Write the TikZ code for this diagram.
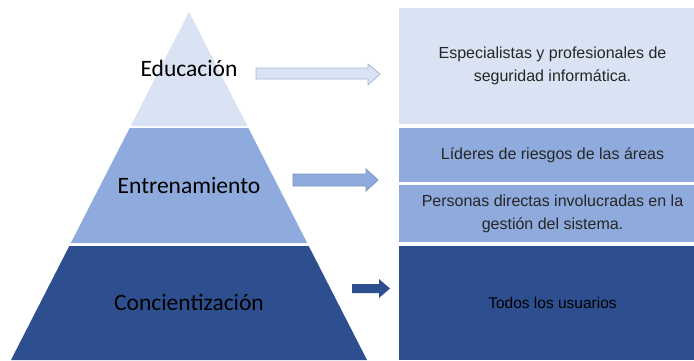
\documentclass[tikz,border=0pt]{standalone}
\usepackage{fontspec}
\setmainfont{Liberation Sans}
\newfontfamily\calib{Carlito}
\definecolor{cA}{HTML}{DAE3F3}
\definecolor{cB}{HTML}{8FAADC}
\definecolor{cC}{HTML}{2E4F8F}
\definecolor{cAe}{HTML}{A9B8D2}
\definecolor{cBe}{HTML}{7A95C8}
\definecolor{txt}{HTML}{262626}
\begin{document}
\begin{tikzpicture}[x=1pt,y=-1pt,
  pyrlabel/.style={font=\calib\fontsize{23.5}{26}\selectfont, text=black, inner sep=0pt},
  infobox/.style={minimum width=307pt, inner sep=0pt, align=center,
     font=\fontsize{16}{23}\selectfont, text=txt, anchor=center}]
\useasboundingbox (0,0) rectangle (694,360);
\clip (0,0) rectangle (694,360);
\fill[white] (0,0) rectangle (694,360);
% pyramid
\fill[cA] (189,12) -- (247.3,126) -- (130.7,126) -- cycle;
\fill[cB] (129.7,128) -- (248.3,128) -- (307.2,243) -- (70.8,243) -- cycle;
\fill[cC] (69.3,246) -- (308.7,246) -- (367,360) -- (11,360) -- cycle;
\node[pyrlabel] (edu) at (189,68) {Educación};
\node[pyrlabel] (ent) at (189,185) {Entrenamiento};
\node[pyrlabel] (con) at (189,302) {Concientización};
% boxes
\node[infobox, fill=cA, minimum height=116pt] (b1) at (552.5,66) {Especialistas y profesionales de\\seguridad informática.};
\node[infobox, fill=cB, minimum height=54pt] (b2) at (552.5,155) {Líderes de riesgos de las áreas};
\node[infobox, fill=cB, minimum height=57pt] (b3) at (552.5,213.5) {Personas directas involucradas en la\\gestión del sistema.};
\node[infobox, fill=cC, minimum height=114pt, text=black, font=\fontsize{15.5}{18}\selectfont] (b4) at (552.5,303) {Todos los usuarios};
% arrows
\draw[fill=cA, draw=cAe, line width=0.8pt] (256,68) -- (368,68) -- (368,64) -- (380,74) -- (368,85) -- (368,79) -- (256,79) -- cycle;
\draw[fill=cB, draw=cBe, line width=0.8pt] (293,174) -- (366,174) -- (366,169) -- (378,180) -- (366,191) -- (366,186) -- (293,186) -- cycle;
\fill[cC] (352,284) -- (379,284) -- (379,279) -- (390,288.5) -- (379,298) -- (379,293) -- (352,293) -- cycle;
\end{tikzpicture}
\end{document}
